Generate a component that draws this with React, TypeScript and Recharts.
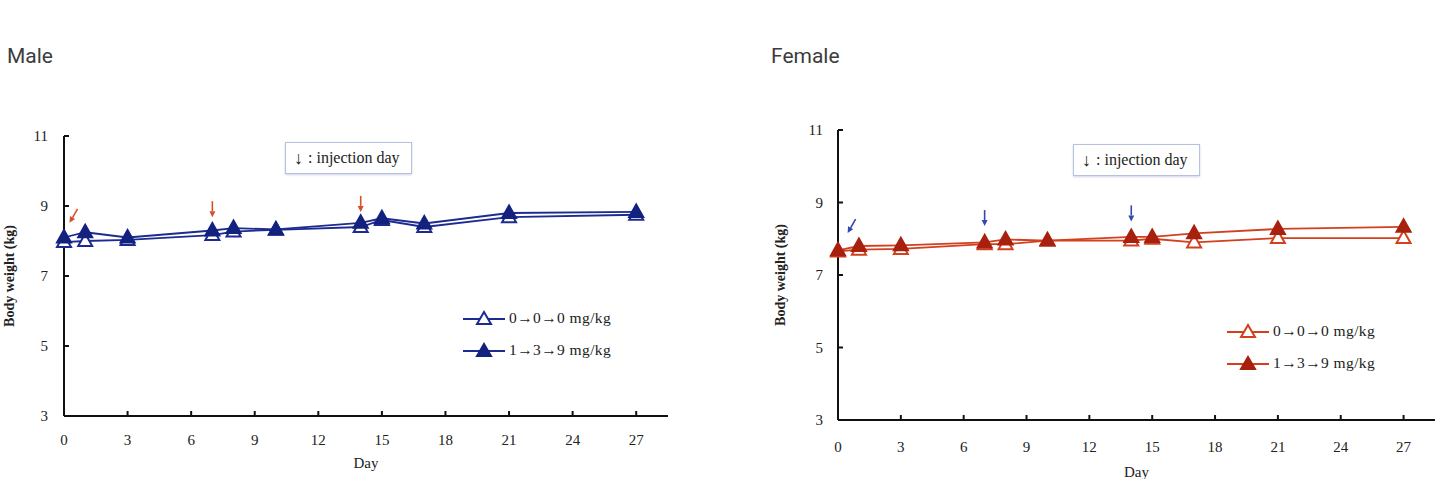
import React from "react";
import { LineChart, Line, XAxis, YAxis, ReferenceDot, Legend } from "recharts";

const days = [0, 1, 3, 7, 8, 10, 14, 15, 17, 21, 27];
const dayTicks = [0, 3, 6, 9, 12, 15, 18, 21, 24, 27];
const weightTicks = [3, 5, 7, 9, 11];

const maleControl = [7.97, 8.0, 8.03, 8.17, 8.27, 8.32, 8.4, 8.6, 8.4, 8.68, 8.75];
const maleDosed = [8.1, 8.25, 8.1, 8.3, 8.37, 8.33, 8.52, 8.65, 8.5, 8.8, 8.83];
const femaleControl = [7.65, 7.7, 7.72, 7.85, 7.85, 7.95, 7.95, 8.0, 7.9, 8.02, 8.02];
const femaleDosed = [7.68, 7.8, 7.82, 7.9, 7.98, 7.95, 8.05, 8.05, 8.15, 8.27, 8.33];

const seriesNames = ["0→0→0 mg/kg", "1→3→9 mg/kg"];

// injection-day arrows (day 0, 7, 14), placed just above the curves
const maleArrowDays = [0.45, 7, 14];
const maleArrowWeights = [8.72, 8.91, 9.06];
const femaleArrowDays = [0.65, 7, 14];
const femaleArrowWeights = [8.35, 8.57, 8.7];
const arrowTilts = [30, 0, 0];

const serif = '"Liberation Serif", "Times New Roman", serif';

function Triangle({ cx, cy, fill, stroke }: any) {
  if (cx == null || cy == null) return null;
  return (
    <polygon
      points={`${cx},${cy - 7.5} ${cx - 7},${cy + 5} ${cx + 7},${cy + 5}`}
      fill={fill}
      stroke={stroke}
      strokeWidth={2}
    />
  );
}

function Arrow({ cx, cy, color, tilt }: any) {
  const a = (tilt * Math.PI) / 180;
  const ux = -Math.sin(a);
  const uy = Math.cos(a);
  const tx = cx - ux * 8, ty = cy - uy * 8;
  const hx = cx + ux * 8, hy = cy + uy * 8;
  const bx = hx - ux * 6, by = hy - uy * 6;
  return (
    <g>
      <line x1={tx} y1={ty} x2={bx} y2={by} stroke={color} strokeWidth={1.6} />
      <polygon
        points={`${hx},${hy} ${bx - uy * 3},${by + ux * 3} ${bx + uy * 3},${by - ux * 3}`}
        fill={color}
      />
    </g>
  );
}

function YTick({ x, y, payload, gap }: any) {
  return (
    <g>
      <line x1={x} y1={y} x2={x + 5} y2={y} stroke="#111" strokeWidth={2} />
      <text x={x - gap} y={y} dy={5} textAnchor="end" fontFamily={serif} fontSize={15} fill="#222">
        {payload.value}
      </text>
    </g>
  );
}

function XTick({ x, y, payload, gap }: any) {
  return (
    <g>
      <line x1={x} y1={y} x2={x} y2={y - 5} stroke="#111" strokeWidth={2} />
      <text x={x} y={y + gap} dy={5} textAnchor="middle" fontFamily={serif} fontSize={15} fill="#222">
        {payload.value}
      </text>
    </g>
  );
}

function LegendBox({ color, fill }: any) {
  return (
    <div style={{ fontFamily: serif, fontSize: 15.5, color: "#222" }}>
      {seriesNames.map((name, i) => (
        <div key={name} style={{ display: "flex", alignItems: "center", height: 32 }}>
          <svg width={44} height={18}>
            <line x1={1} y1={10} x2={43} y2={10} stroke={color} strokeWidth={2} />
            <polygon
              points="22,3 15,15 29,15"
              fill={i === 0 ? "#fff" : fill}
              stroke={i === 0 ? color : fill}
              strokeWidth={2}
            />
          </svg>
          <span style={{ marginLeft: 3, letterSpacing: 0.4 }}>{name}</span>
        </div>
      ))}
    </div>
  );
}

function InjectionBox({ left, top }: any) {
  return (
    <div
      style={{
        position: "absolute",
        left,
        top,
        width: 127,
        height: 32,
        border: "1px solid #b6c0e2",
        boxShadow: "0 1px 2px rgba(120,130,180,0.35)",
        background: "#fff",
        fontFamily: serif,
        fontSize: 16,
        color: "#222",
        display: "flex",
        alignItems: "center",
        paddingLeft: 8,
        boxSizing: "border-box",
      }}
    >
      <span style={{ fontWeight: 700, fontSize: 18, marginRight: 5 }}>↓</span>
      <span>: injection day</span>
    </div>
  );
}

function WeightChart({
  control, dosed, color, fill, arrowColor, arrowDays, arrowWeights,
  width, height, margin, yWidth, xHeight, yGap, xGap, titleX, dayGap, legendPos,
}: any) {
  const data = days.map((d, i) => ({ day: d, control: control[i], dosed: dosed[i] }));
  return (
    <LineChart width={width} height={height} data={data} margin={margin}>
      <XAxis
        dataKey="day"
        type="number"
        domain={[0, 28.5]}
        ticks={dayTicks}
        height={xHeight}
        tickSize={0}
        tickMargin={0}
        tickLine={false}
        axisLine={{ stroke: "#111", strokeWidth: 2 }}
        tick={<XTick gap={xGap} />}
        label={{
          content: ({ viewBox }: any) => (
            <text
              x={viewBox.x + viewBox.width / 2}
              y={viewBox.y + dayGap}
              textAnchor="middle"
              fontFamily={serif}
              fontSize={15}
              fill="#222"
            >
              Day
            </text>
          ),
        }}
      />
      <YAxis
        type="number"
        domain={[3, 11]}
        ticks={weightTicks}
        width={yWidth}
        tickSize={0}
        tickMargin={0}
        tickLine={false}
        axisLine={{ stroke: "#111", strokeWidth: 2 }}
        tick={<YTick gap={yGap} />}
        label={{
          content: ({ viewBox }: any) => {
            const cy = viewBox.y + viewBox.height / 2;
            return (
              <text
                x={titleX}
                y={cy}
                transform={`rotate(-90, ${titleX}, ${cy})`}
                textAnchor="middle"
                fontFamily={serif}
                fontSize={14}
                fontWeight={600}
                fill="#222"
              >
                Body weight (kg)
              </text>
            );
          },
        }}
      />
      <Line
        dataKey="control"
        stroke={color}
        strokeWidth={1.8}
        isAnimationActive={false}
        dot={(p: any) => <Triangle key={`c${p.index}`} cx={p.cx} cy={p.cy} fill="#fff" stroke={color} />}
      />
      <Line
        dataKey="dosed"
        stroke={color}
        strokeWidth={1.8}
        isAnimationActive={false}
        dot={(p: any) => <Triangle key={`d${p.index}`} cx={p.cx} cy={p.cy} fill={fill} stroke={fill} />}
      />
      {arrowDays.map((d: number, i: number) => (
        <ReferenceDot
          key={i}
          x={d}
          y={arrowWeights[i]}
          r={0}
          shape={(p: any) => <Arrow cx={p.cx} cy={p.cy} color={arrowColor} tilt={arrowTilts[i]} />}
        />
      ))}
      <Legend
        layout="vertical"
        align="center"
        verticalAlign="middle"
        wrapperStyle={{ left: legendPos.left, top: legendPos.top, width: "auto", height: "auto" }}
        content={() => <LegendBox color={color} fill={fill} />}
      />
    </LineChart>
  );
}

const titleStyle: React.CSSProperties = {
  position: "absolute",
  top: 44,
  fontFamily: "Roboto, 'Open Sans', sans-serif",
  fontSize: 21,
  color: "#3c3c3c",
  lineHeight: "25px",
};

export default function App() {
  return (
    <div style={{ position: "absolute", left: 0, top: 0, width: 1436, height: 479, background: "#fff", overflow: "hidden" }}>
      <div style={{ ...titleStyle, left: 7 }}>Male</div>
      <div style={{ ...titleStyle, left: 771 }}>Female</div>

      <div style={{ position: "absolute", left: 0, top: 100 }}>
        <WeightChart
          control={maleControl}
          dosed={maleDosed}
          color="#1c2b8f"
          fill="#13217f"
          arrowColor="#d4502a"
          arrowDays={maleArrowDays}
          arrowWeights={maleArrowWeights}
          width={680}
          height={379}
          margin={{ top: 36, right: 12, left: 0, bottom: 0 }}
          yWidth={64}
          xHeight={63}
          yGap={16}
          xGap={24}
          titleX={14}
          dayGap={52}
          legendPos={{ left: 462, top: 202 }}
        />
      </div>
      <InjectionBox left={285} top={142} />

      <div style={{ position: "absolute", left: 760, top: 100 }}>
        <WeightChart
          control={femaleControl}
          dosed={femaleDosed}
          color="#d2401e"
          fill="#a8200e"
          arrowColor="#3448b0"
          arrowDays={femaleArrowDays}
          arrowWeights={femaleArrowWeights}
          width={676}
          height={379}
          margin={{ top: 30, right: 1, left: 0, bottom: 0 }}
          yWidth={78}
          xHeight={59}
          yGap={15}
          xGap={27}
          titleX={25}
          dayGap={57}
          legendPos={{ left: 466, top: 215 }}
        />
      </div>
      <InjectionBox left={1073} top={144} />
    </div>
  );
}
